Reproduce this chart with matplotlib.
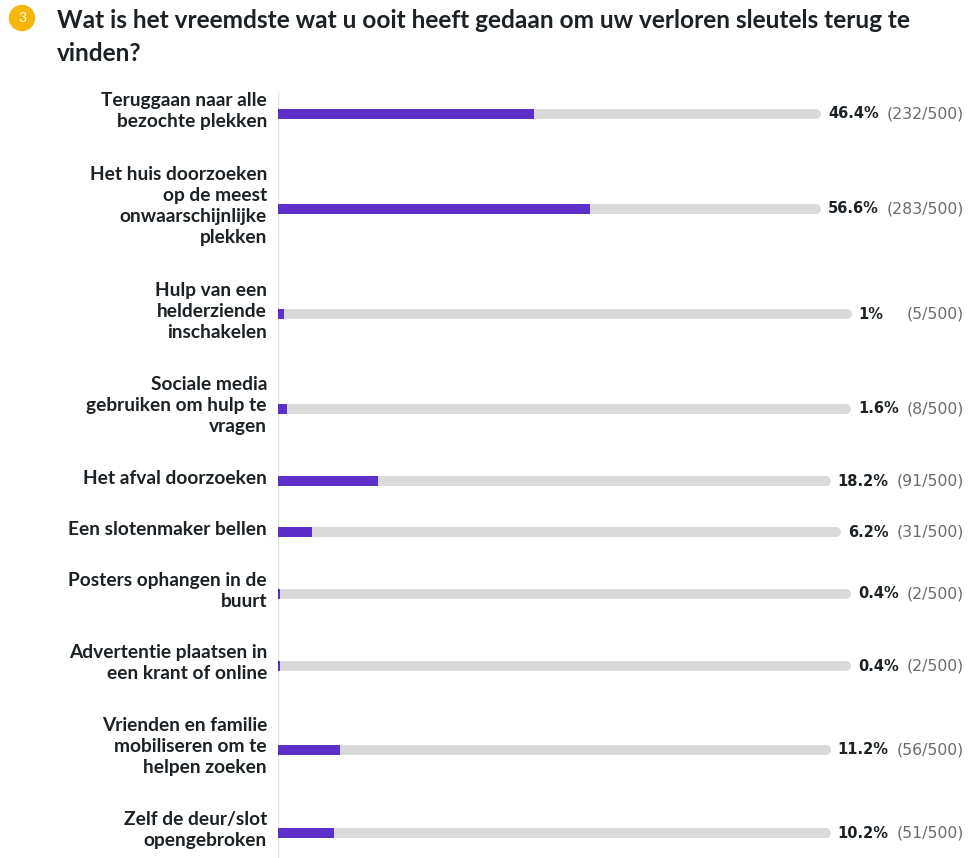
import matplotlib
matplotlib.use("Agg")
import matplotlib.pyplot as plt
from matplotlib.patches import Circle
from matplotlib.lines import Line2D

# ---------------- data ----------------
title = "Wat is het vreemdste wat u ooit heeft gedaan om uw verloren sleutels terug te\nvinden?"
badge = "3"
categories = [
    "Teruggaan naar alle\nbezochte plekken",
    "Het huis doorzoeken\nop de meest\nonwaarschijnlijke\nplekken",
    "Hulp van een\nhelderziende\ninschakelen",
    "Sociale media\ngebruiken om hulp te\nvragen",
    "Het afval doorzoeken",
    "Een slotenmaker bellen",
    "Posters ophangen in de\nbuurt",
    "Advertentie plaatsen in\neen krant of online",
    "Vrienden en familie\nmobiliseren om te\nhelpen zoeken",
    "Zelf de deur/slot\nopengebroken",
]
percent_labels = ["46.4%", "56.6%", "1%", "1.6%", "18.2%", "6.2%", "0.4%", "0.4%", "11.2%", "10.2%"]
counts = [232, 283, 5, 8, 91, 31, 2, 2, 56, 51]
total = 500

# ---------------- style ----------------
W, H, DPI = 974, 858, 100
PURPLE = "#5D2FC9"
TRACK = "#DADADA"
TEXT = "#1B2124"
GREY = "#6B6B6B"
LABEL_FONT = "Lato"

fig = plt.figure(figsize=(W / DPI, H / DPI), dpi=DPI)
fig.patch.set_facecolor("white")

# axes: x origin at pixel 278, 100% = 551 px ; y in pixels (top = 0)
x0_px = 278
px_per_pct = 5.51
ax = fig.add_axes([x0_px / W, 0, (W - x0_px) / W, 1])
ax.set_xlim(0, (W - x0_px) / px_per_pct)
ax.set_ylim(H, 0)
ax.axis("off")

def px2x(px):
    return (px - x0_px) / px_per_pct

# row positions derived from number of label lines
line_h = 22
row_pad = 28.6
lines = [c.count("\n") + 1 for c in categories]
ys = [114.0]
for i in range(1, len(categories)):
    ys.append(ys[-1] + (lines[i - 1] + lines[i]) / 2 * line_h + row_pad)

bar_h = 10

# vertical axis line
ax.plot([0, 0], [93, H], color="#E2E2E2", lw=1, zorder=1)

# title + badge
fig.text(57 / W, 1 - 37 / H, title, fontsize=17.6, fontweight="bold", family=LABEL_FONT,
         color=TEXT, ha="left", va="center", linespacing=1.48)
bx, by, br = 22, 18, 12.5
badge_ax = fig.add_axes([0, 0, 1, 1], zorder=5)
badge_ax.set_xlim(0, W)
badge_ax.set_ylim(H, 0)
badge_ax.axis("off")
badge_ax.add_patch(Circle((bx, by), br, color="#F6B60C"))
badge_ax.text(bx, by + 0.5, badge, color="white", fontsize=10, ha="center", va="center",
              family=LABEL_FONT)

fig.canvas.draw()
renderer = fig.canvas.get_renderer()

for i, (cat, pct_lbl, cnt, y) in enumerate(zip(categories, percent_labels, counts, ys)):
    value = cnt / total * 100
    # category label
    ax.text(px2x(267), y - 3, cat, ha="right", va="center", multialignment="right",
            fontsize=13.8, fontweight="bold", family=LABEL_FONT, color=TEXT, linespacing=1.29)
    # count text, right aligned
    ct = ax.text(px2x(964), y, f"({cnt}/{total})", ha="right", va="center",
                 fontsize=11.3, color=GREY, family="DejaVu Sans")
    cbb = ct.get_window_extent(renderer)
    count_left_px = cbb.x0
    pt = ax.text(0, y, pct_lbl, ha="left", va="center", fontsize=10.5,
                 fontweight="bold", color=TEXT, family="DejaVu Sans")
    pbb = pt.get_window_extent(renderer)
    pct_w = pbb.width
    pct_left_px = count_left_px - max(pct_w + 8, 48)
    pt.set_x(px2x(pct_left_px))
    track_end_px = pct_left_px - 7
    r = bar_h / 2
    # track (rounded right end)
    ax.barh(y, px2x(track_end_px - r), height=bar_h, left=0, color=TRACK, zorder=2, linewidth=0)
    ax.add_line(Line2D([px2x(track_end_px - r - 2), px2x(track_end_px - r)], [y, y],
                       color=TRACK, lw=bar_h * 72 / DPI, solid_capstyle="round", zorder=2))
    # value bar
    ax.barh(y, value, height=bar_h, left=0, color=PURPLE, zorder=3, linewidth=0)

fig.savefig("out.png", dpi=DPI, facecolor="white")
